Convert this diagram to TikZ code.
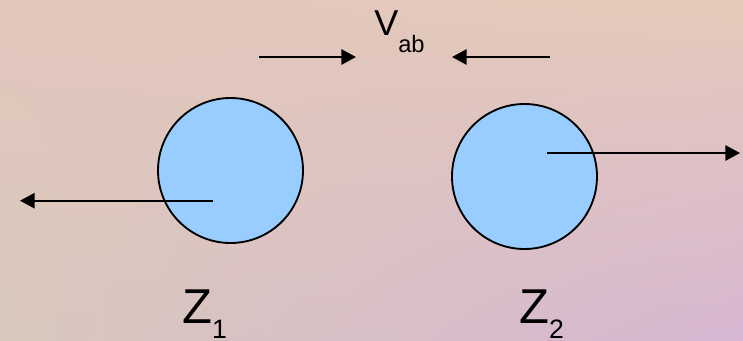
\documentclass[tikz,border=0pt]{standalone}
\usepackage{fontspec}
\setmainfont{Liberation Sans}
\usepackage{tikz}
\usetikzlibrary{arrows.meta,shadings}
\definecolor{bgtl}{RGB}{226,198,188}
\definecolor{bgtr}{RGB}{229,202,186}
\definecolor{bgbl}{RGB}{216,200,188}
\definecolor{bgbr}{RGB}{214,182,210}
\definecolor{ballblue}{RGB}{153,204,255}

\begin{document}
\begin{tikzpicture}[
  x=0.75pt, y=-0.75pt,
  ball/.style={draw, circle, fill=ballblue, line width=1.4pt,
               inner sep=0pt, minimum size=108.75pt},
  vel/.style={-{Triangle[length=11pt,width=11.5pt]}, line width=1.4pt},
  big/.style={anchor=base west, inner sep=0pt}
]
  \useasboundingbox (0,0) rectangle (743,340);
  \shade[upper left=bgtl, upper right=bgtr, lower left=bgbl, lower right=bgbr]
    (0,0) rectangle (743,340);

  \node[ball] (ball1) at (230.5,170.5) {};
  \node[ball] (ball2) at (524.5,176.5) {};

  % velocities of the two balls
  \coordinate (v1start) at (213,200.7);
  \coordinate (v1end) at (20,200.7);
  \coordinate (v2start) at (547,153);
  \coordinate (v2end) at (740,153);
  \draw[vel] (v1start) -- (v1end);
  \draw[vel] (v2start) -- (v2end);

  % approach velocity
  \node[big] (vab) at (374,35)
    {\fontsize{27}{29}\selectfont V\raisebox{-12.75pt}{\fontsize{17.8}{20}\selectfont ab}};
  \coordinate (aleft) at (259,57);
  \coordinate (atip1) at (356,57);
  \coordinate (aright) at (550,57);
  \coordinate (atip2) at (452,57);
  \draw[vel] (aleft) -- (atip1);
  \draw[vel] (aright) -- (atip2);

  \node[big] (z1) at (182,323)
    {\fontsize{36.7}{40}\selectfont Z\raisebox{-11.25pt}{\fontsize{20}{22}\selectfont 1}};
  \node[big] (z2) at (519,323)
    {\fontsize{36.7}{40}\selectfont Z\raisebox{-11.25pt}{\fontsize{20}{22}\selectfont 2}};
\end{tikzpicture}
\end{document}
